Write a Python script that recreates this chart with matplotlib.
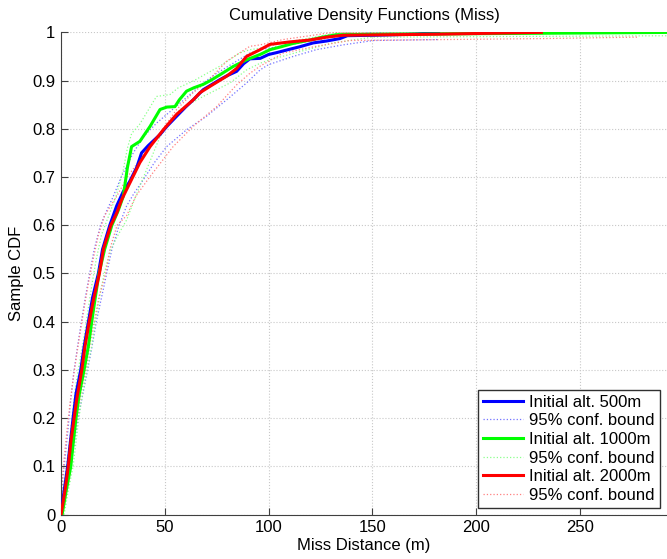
import numpy as np
import matplotlib.pyplot as plt

plt.rcParams['font.family'] = ['Liberation Sans', 'DejaVu Sans']

# --- data (x = miss distance, F = CDF) ---
blue_x = [0, 1.5, 3.2, 4.5, 5.8, 7.2, 9.5, 11.2, 13.2, 15.2, 18, 20, 23.5, 26.8, 30, 33, 36.5, 38.8,
          42, 47.7, 51, 55.7, 60, 63.7, 68.5, 72, 76.6, 80, 84.6, 88, 91, 96, 100, 104, 110.3, 115,
          121.5, 128, 134.4, 138, 151, 170, 182]
blue_F = [0, 0.05, 0.1, 0.15, 0.2, 0.25, 0.3, 0.35, 0.4, 0.45, 0.5, 0.55, 0.6, 0.64, 0.67, 0.69, 0.72, 0.75,
          0.765, 0.788, 0.805, 0.826, 0.845, 0.86, 0.881, 0.89, 0.902, 0.91, 0.919, 0.935, 0.945, 0.946, 0.954,
          0.958, 0.965, 0.97, 0.978, 0.982, 0.987, 0.993, 0.994, 0.996, 1.0]
blue_lo_x = [0.5, 2.5, 4.5, 6.5, 8.2, 10.5, 12.8, 15, 17, 19.5, 22, 24.5, 28, 31.6, 35, 39.6, 45, 50.9,
             60.5, 70.1, 79.8, 89.4, 95.9, 100, 111.9, 123, 136, 150.5, 182]
blue_lo_F = [0, 0.05, 0.1, 0.15, 0.2, 0.25, 0.3, 0.35, 0.4, 0.45, 0.5, 0.55, 0.6, 0.64, 0.665, 0.694, 0.73, 0.763,
             0.798, 0.826, 0.86, 0.895, 0.922, 0.933, 0.95, 0.964, 0.974, 0.983, 0.985]
blue_hi_x = [0, 0.5, 2, 3.2, 4.5, 6, 8, 9.8, 11.7, 13.8, 16, 19, 22, 25.2, 29, 34.8, 40, 46.1, 57.3, 68.5,
             75, 83, 91, 96, 115, 137.6, 150, 245]
blue_hi_F = [0.02, 0.06, 0.12, 0.17, 0.23, 0.29, 0.35, 0.4, 0.45, 0.5, 0.55, 0.6, 0.63, 0.66, 0.7, 0.75, 0.785,
             0.812, 0.853, 0.895, 0.915, 0.936, 0.957, 0.964, 0.978, 0.995, 1.0, 1.0]

green_x = [0.5, 2.5, 4.7, 5.9, 7.2, 8.8, 11.1, 13.2, 14.8, 16.5, 18.3, 21, 24.5, 27.5, 30, 32, 34, 38, 42.9,
           47.7, 51, 54.9, 57, 60.5, 64, 68.5, 72, 76.6, 82.9, 89.4, 95.9, 100.7, 106, 111.9, 120, 126, 132.8,
           160, 230, 300]
green_F = [0, 0.05, 0.1, 0.15, 0.2, 0.25, 0.3, 0.35, 0.4, 0.45, 0.5, 0.55, 0.6, 0.63, 0.66, 0.72, 0.763, 0.774,
           0.805, 0.84, 0.845, 0.846, 0.86, 0.878, 0.885, 0.892, 0.9, 0.912, 0.929, 0.943, 0.954, 0.964, 0.97,
           0.977, 0.984, 0.99, 0.995, 0.996, 0.998, 1.0]
green_lo_x = [1.5, 3.5, 5.8, 7.2, 8.6, 10.3, 12.6, 14.8, 16.5, 18.5, 20.8, 24, 27.5, 31.6, 36, 41.2, 47.7, 52,
              57.3, 68.5, 81.4, 89.4, 96, 100.7, 115, 131, 150, 300]
green_lo_F = [0, 0.05, 0.1, 0.15, 0.2, 0.25, 0.3, 0.35, 0.4, 0.45, 0.5, 0.55, 0.58, 0.611, 0.66, 0.715, 0.784,
              0.81, 0.84, 0.867, 0.895, 0.922, 0.936, 0.943, 0.96, 0.978, 0.99, 0.993]
green_hi_x = [0, 1.5, 3.5, 4.8, 6, 7.5, 9.5, 11.5, 13.2, 15, 17, 19.5, 23, 26.5, 30, 32, 34, 38, 46, 52.5,
              56.5, 63.7, 76.6, 86, 91, 96, 107, 131, 140, 300]
green_hi_F = [0.02, 0.07, 0.13, 0.18, 0.23, 0.28, 0.33, 0.38, 0.43, 0.48, 0.53, 0.58, 0.62, 0.66, 0.715, 0.76,
              0.79, 0.81, 0.867, 0.871, 0.885, 0.899, 0.93, 0.957, 0.964, 0.967, 0.978, 0.997, 1.0, 1.0]

red_x = [0, 1.9, 3.5, 4.7, 6.3, 7.6, 10, 11.6, 13.6, 15.6, 18.5, 20.4, 24, 26.8, 29.2, 33.2, 38, 42.9, 49.3,
         55.7, 63.7, 67, 71.8, 79.8, 84.6, 89.4, 95.9, 100.7, 110, 119.9, 128, 136, 181, 231.5]
red_F = [0, 0.05, 0.1, 0.15, 0.2, 0.24, 0.3, 0.35, 0.4, 0.445, 0.5, 0.55, 0.6, 0.625, 0.653, 0.688, 0.73, 0.763,
         0.798, 0.83, 0.86, 0.875, 0.888, 0.909, 0.925, 0.95, 0.964, 0.975, 0.98, 0.984, 0.99, 0.994, 0.996, 1.0]
red_lo_x = [0.8, 3, 4.8, 6.2, 7.8, 9.5, 12, 13.8, 16, 18.2, 21.5, 23.5, 27, 31.6, 36, 42.9, 54, 63.7, 75,
            84.6, 91, 96, 107, 123, 139, 232, 278]
red_lo_F = [0, 0.05, 0.1, 0.15, 0.2, 0.25, 0.3, 0.35, 0.4, 0.45, 0.5, 0.55, 0.6, 0.62, 0.66, 0.701, 0.763,
            0.805, 0.846, 0.891, 0.915, 0.93, 0.957, 0.971, 0.983, 0.987, 0.99]
red_hi_x = [0, 0.5, 1.8, 3, 4.3, 5.8, 7.5, 9.3, 11.2, 13.2, 15.5, 18, 21, 26.8, 32, 38, 47.7, 55.7, 63.7,
            71, 79.8, 91, 96, 107, 128, 135, 278]
red_hi_F = [0.02, 0.07, 0.13, 0.18, 0.23, 0.28, 0.33, 0.38, 0.43, 0.48, 0.53, 0.58, 0.62, 0.66, 0.7, 0.736,
            0.791, 0.84, 0.875, 0.9, 0.94, 0.971, 0.974, 0.985, 0.998, 1.0, 1.0]

labels = ["Initial alt. 500m", "95% conf. bound", "Initial alt. 1000m", "95% conf. bound",
          "Initial alt. 2000m", "95% conf. bound"]

fig = plt.figure(figsize=(6.67, 5.59), dpi=100)
ax = fig.add_axes([0.0915, 0.0793, 0.9085, 0.8629])

series = [
    (blue_x, blue_F, blue_lo_x, blue_lo_F, blue_hi_x, blue_hi_F, (0, 0, 1), (0.45, 0.45, 1)),
    (green_x, green_F, green_lo_x, green_lo_F, green_hi_x, green_hi_F, (0, 1, 0), (0.55, 1, 0.55)),
    (red_x, red_F, red_lo_x, red_lo_F, red_hi_x, red_hi_F, (1, 0, 0), (1, 0.5, 0.5)),
]
handles = []
for x, F, xl, Fl, xh, Fh, c, cb in series:
    h1, = ax.plot(x, F, color=c, lw=2.2, zorder=3)
    h2, = ax.plot(xl, Fl, color=cb, lw=0.9, ls=':', zorder=2)
    ax.plot(xh, Fh, color=cb, lw=0.9, ls=':', zorder=2)
    handles += [h1, h2]

ax.set_xlim(0, 292)
ax.set_ylim(0, 1)
ax.set_xticks(np.arange(0, 251, 50))
ax.set_yticks(np.arange(0, 1.01, 0.1))
ax.set_yticklabels(["0", "0.1", "0.2", "0.3", "0.4", "0.5", "0.6", "0.7", "0.8", "0.9", "1"])
ax.grid(True, color="#c8c8c8", ls=":", lw=0.8)
ax.set_axisbelow(True)
ax.tick_params(direction="in", length=5, labelsize=12, color="#404040", pad=4)
for s in ["top", "right"]:
    ax.spines[s].set_visible(False)
for s in ["left", "bottom"]:
    ax.spines[s].set_color("#404040")

ax.set_title("Cumulative Density Functions (Miss)", fontsize=12, pad=9)
ax.set_xlabel("Miss Distance (m)", fontsize=12, labelpad=2)
ax.set_ylabel("Sample CDF", fontsize=12, labelpad=6)

leg = ax.legend(handles, labels, loc="lower right", bbox_to_anchor=(0.988, 0.014), borderaxespad=0,
                fontsize=12, fancybox=False, framealpha=1, edgecolor="#303030",
                handlelength=2.4, labelspacing=0.22, handletextpad=0.35, borderpad=0.3)
leg.get_frame().set_linewidth(1.0)

fig.savefig("out.png", dpi=100)
